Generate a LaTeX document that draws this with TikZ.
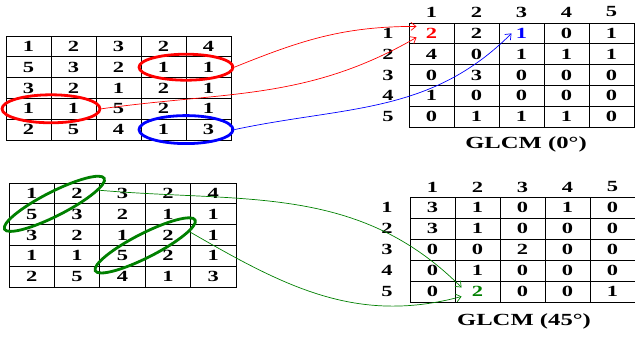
\documentclass[tikz,border=0pt]{standalone}
\usepackage{fontspec}
\setmainfont{Liberation Serif}
\newfontfamily\widefont[FakeStretch=1.45]{Liberation Serif}
\usetikzlibrary{shapes.geometric,calc,arrows.meta}

\begin{document}
\begin{tikzpicture}[x=1pt, y=1pt,
        every node/.style={font=\widefont\bfseries\fontsize{15.5}{17}\selectfont},
        cell/.style={draw, line width=0.9pt, minimum width=45pt, minimum height=20.8pt, inner sep=0pt},
        lbl/.style={inner sep=0pt},
        title/.style={inner sep=0pt, font=\widefont\bfseries\fontsize{17}{19}\selectfont},
        ring/.style={ellipse, draw, line width=2.8pt, inner sep=0pt},
        link/.style={-{Straight Barb[length=5pt, width=8pt]}, line width=0.7pt}
    ]
        \useasboundingbox (0,0) rectangle (635,338);
        % image, 0 degrees
        \foreach \line [count=\r] in {{1,2,3,2,4},{5,3,2,1,1},{3,2,1,2,1},{1,1,5,2,1},{2,5,4,1,3}}
            \foreach \v [count=\c] in \line
                \node[cell] (a-\r-\c) at (45*\c-16.5, 312.4-20.8*\r) {\v};
        % image, 45 degrees
        \foreach \line [count=\r] in {{1,2,3,2,4},{5,3,2,1,1},{3,2,1,2,1},{1,1,5,2,1},{2,5,4,1,3}}
            \foreach \v [count=\c] in \line
                \node[cell, minimum width=45.4pt] (b-\r-\c) at (45.4*\c-13.7, 165.4-20.8*\r) {\v};
        % GLCM (0)
        \foreach \line [count=\r] in {{\textcolor{red}{2},2,\textcolor{blue}{1},0,1},{4,0,1,1,1},{0,3,0,0,0},{1,0,0,0,0},{0,1,1,1,0}}
            \foreach \v [count=\c] in \line
                \node[cell] (t-\r-\c) at (45*\c+386.5, 325.4-20.8*\r) {\v};
        % GLCM (45)
        \foreach \line [count=\r] in {{3,1,0,1,0},{3,1,0,0,0},{0,0,2,0,0},{0,1,0,0,0},{0,\textcolor{green!50!black}{2},0,0,1}}
            \foreach \v [count=\c] in \line
                \node[cell, minimum height=21pt] (u-\r-\c) at (45*\c+387.5, 151.5-21*\r) {\v};
        % grey levels
        \foreach \i in {1,...,5} {
            \node[lbl] (tc-\i) at (45*\i+386.5, 326) {\i};
            \node[lbl] (tr-\i) at (388, 325.4-20.8*\i) {\i};
            \node[lbl] (uc-\i) at (45*\i+387.5, 151) {\i};
            \node[lbl] (ur-\i) at (387, 151.5-21*\i) {\i};
        }
        \node[title] (t0)  at (526, 194) {GLCM (0°)};
        \node[title] (t45) at (524, 17)  {GLCM (45°)};

        \node[ring, red, minimum width=94pt, minimum height=26pt] (r1) at ($(a-2-4)!0.5!(a-2-5)$) {};
        \node[ring, red, minimum width=98pt, minimum height=28pt] (r2) at ($(a-4-1)!0.5!(a-4-2)$) {};
        \node[ring, blue, minimum width=94pt, minimum height=28pt] (b1) at ($(a-5-4)!0.5!(a-5-5)$) {};
        \node[ring, green!50!black, minimum width=112pt, minimum height=24pt, rotate=27] (g1) at ($(b-1-2)!0.5!(b-2-1)$) {};
        \node[ring, green!50!black, minimum width=112pt, minimum height=24pt, rotate=27] (g2) at ($(b-3-4)!0.5!(b-4-3)$) {};

        \draw[link, red]   (r1.east) to[out=22, in=180] ([xshift=8pt, yshift=7pt]t-1-1.west);
        \draw[link, red]   (r2.east) to[out=8, in=210]  ([xshift=8pt, yshift=-4pt]t-1-1.west);
        \draw[link, blue]  (b1.east) to[out=12, in=225] ([xshift=-10pt]t-1-3.center);
        \draw[link, green!50!black] (g1.-10) to[out=-5, in=135]  ([xshift=7pt, yshift=4pt]u-5-2.west);
        \draw[link, green!50!black] (g2.-10) to[out=-30, in=195] ([xshift=7pt, yshift=-5pt]u-5-2.west);
    \end{tikzpicture}
\end{document}
